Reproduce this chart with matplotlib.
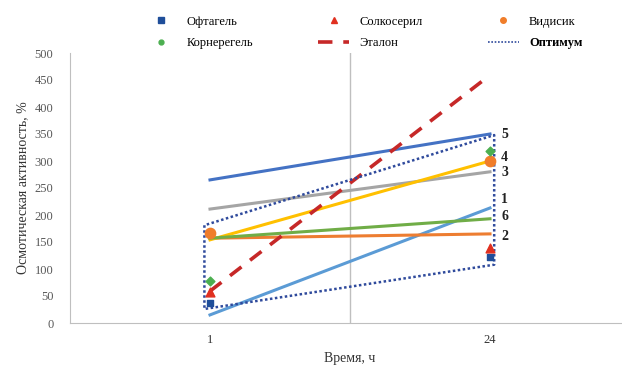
import matplotlib
matplotlib.use("Agg")
import matplotlib.pyplot as plt
from matplotlib.lines import Line2D

plt.rcParams['font.family'] = ['Liberation Serif', 'DejaVu Serif']

# categories on the x axis (hours)
times = ["1", "24"]

# trend lines, numbered as in the chart (value at 1 h, value at 24 h)
line_labels = ["1", "2", "3", "4", "5", "6"]
line_values = [
    [15, 213],
    [157, 165],
    [211, 280],
    [154, 300],
    [265, 350],
    [157, 193],
]
line_colors = ["#5B9BD5", "#ED7D31", "#A5A5A5", "#FFC000", "#4472C4", "#70AD47"]
# where the number labels sit next to the 24 h end
num_pos = [229, 161, 278, 306, 350, 198]

# measured points
oftagel = [37, 122]
solkoseril = [57, 139]
vidisik = [167, 300]
korneregel = [78, 318]
etalon = [59, 459]

# optimum region (corners)
opt_x = [-0.02, -0.02, 1.015, 1.015, -0.02]
opt_y = [181, 26, 108, 348, 181]

fig = plt.figure(figsize=(6.22, 3.67), dpi=100)
ax = fig.add_axes([70 / 622, 1 - 323 / 367, 560 / 622, 270 / 367])

xs = [0, 1]
ax.axvline(0.5, color="#BFBFBF", lw=1, zorder=0)

for vals, c in zip(line_values, line_colors):
    ax.plot(xs, vals, color=c, lw=2.2, zorder=2)

ax.plot(xs, etalon, color="#C62828", lw=2.6, dashes=(4, 3), zorder=3)
ax.plot(opt_x, opt_y, color="#2F4A9C", lw=1.8, ls=(0, (1, 1)), zorder=3)

ax.scatter(xs, oftagel, marker="s", s=22, color="#1F4E9A", zorder=4)
ax.scatter(xs, solkoseril, marker="^", s=40, color="#E03020", zorder=4)
ax.scatter(xs, vidisik, marker="o", s=55, color="#F07D2A", zorder=4)
ax.scatter(xs, korneregel, marker="D", s=20, color="#4CAF50", zorder=4)

for lab, yv in zip(line_labels, num_pos):
    ax.text(1.04, yv, lab, fontsize=10, fontweight="bold",
            va="center", ha="left", color="#222222")

ax.set_xlim(-0.5, 1.5)
ax.set_ylim(0, 500)
ax.set_yticks(range(0, 501, 50))
ax.set_xticks(xs)
ax.set_xticklabels(times)
ax.tick_params(axis="both", length=0, labelsize=9, colors="#333333")
ax.tick_params(axis="y", pad=12, colors="#595959")
ax.tick_params(axis="x", pad=8)
for s in ["top", "right"]:
    ax.spines[s].set_visible(False)
for s in ["left", "bottom"]:
    ax.spines[s].set_color("#BFBFBF")

ax.set_ylabel("Осмотическая активность, %", fontsize=10, color="#333333", labelpad=4)
ax.set_xlabel("Время, ч", fontsize=10, color="#333333", labelpad=4)

handles = [
    Line2D([], [], ls="", marker="s", ms=4, color="#1F4E9A"),
    Line2D([], [], ls="", marker="o", ms=3.5, color="#4CAF50"),
    Line2D([], [], ls="", marker="^", ms=4, color="#E03020"),
    Line2D([], [], color="#C62828", lw=2.6, dashes=(4, 3)),
    Line2D([], [], ls="", marker="o", ms=4, color="#F07D2A"),
    Line2D([], [], color="#2F4A9C", lw=1.2, ls=(0, (1, 1))),
]
names = ["Офтагель", "Корнерегель", "Солкосерил", "Эталон", "Видисик", "Оптимум"]
leg = fig.legend(handles, names, ncol=3, loc="center", bbox_to_anchor=(0.585, 0.912),
                 frameon=False, fontsize=9, columnspacing=5.2, handlelength=2.5,
                 labelspacing=0.75)
leg.get_texts()[-1].set_fontweight("bold")

fig.savefig("out.png", dpi=100)
